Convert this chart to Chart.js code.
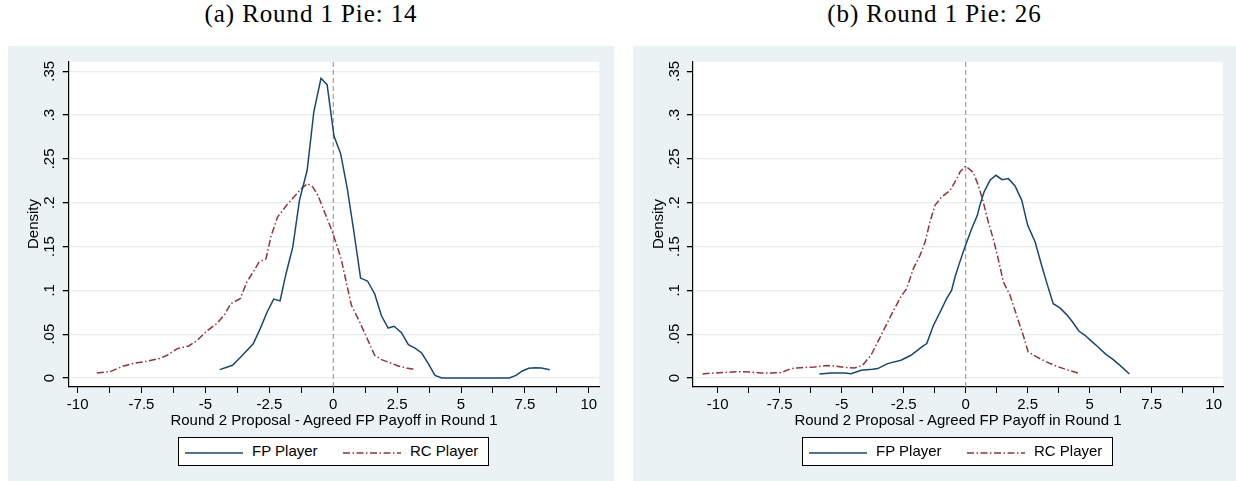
<!DOCTYPE html>
<html>
<head>
<meta charset="utf-8">
<script src="https://cdn.jsdelivr.net/npm/chart.js@4.4.1/dist/chart.umd.min.js"></script>
<style>
    body { margin: 0; width: 1236px; height: 481px; background: #fff; position: relative; overflow: hidden;
           font-family: "Liberation Sans", Arial, sans-serif; color: #000; }
    .title { position: absolute; top: 0; height: 28px; line-height: 28px; text-align: center;
             font-family: "Liberation Serif", "Times New Roman", serif; font-size: 25px; letter-spacing: 0.9px; }
    .panel { position: absolute; top: 46px; height: 435px; background: #eaf2f3; }
    .panel canvas { position: absolute; left: 0; top: 0; }
    .xtitle { position: absolute; top: 411px; width: 500px; height: 18px; line-height: 18px; text-align: center; font-size: 15px; }
    .ytitle { position: absolute; top: 215px; width: 100px; height: 18px; line-height: 18px; text-align: center;
              font-size: 15px; transform: rotate(-90deg); }
    .legend { position: absolute; top: 437px; width: 311px; height: 29px; box-sizing: border-box;
              border: 1px solid #000; background: #fff; font-size: 15px; }
    .legend svg { position: absolute; top: 13px; }
    .legend span { position: absolute; top: 4px; line-height: 18px; }
</style>
</head>
<body>

<div class="title" style="left:8px;width:606px">(a) Round 1 Pie: 14</div>
<div class="title" style="left:633px;width:603px">(b) Round 1 Pie: 26</div>

<div class="panel" style="left:8px;width:606px"><canvas id="chartA" width="606" height="435"></canvas></div>
<div class="panel" style="left:633px;width:603px"><canvas id="chartB" width="603" height="435"></canvas></div>

<div class="ytitle" style="left:-17px">Density</div>
<div class="ytitle" style="left:608px">Density</div>
<div class="xtitle" style="left:84px">Round 2 Proposal - Agreed FP Payoff in Round 1</div>
<div class="xtitle" style="left:708px">Round 2 Proposal - Agreed FP Payoff in Round 1</div>

<div class="legend" style="left:178px">
    <svg width="58" height="4" style="left:6px"><line x1="0" y1="2" x2="58" y2="2" stroke="#1a476f" stroke-width="1.5"/></svg>
    <span style="left:73px">FP Player</span>
    <svg width="58" height="4" style="left:164px"><line x1="0" y1="2" x2="58" y2="2" stroke="#90353b" stroke-width="1.5" stroke-dasharray="7 2.5 1.5 2.5"/></svg>
    <span style="left:231px">RC Player</span>
</div>
<div class="legend" style="left:802px">
    <svg width="58" height="4" style="left:6px"><line x1="0" y1="2" x2="58" y2="2" stroke="#1a476f" stroke-width="1.5"/></svg>
    <span style="left:73px">FP Player</span>
    <svg width="58" height="4" style="left:164px"><line x1="0" y1="2" x2="58" y2="2" stroke="#90353b" stroke-width="1.5" stroke-dasharray="7 2.5 1.5 2.5"/></svg>
    <span style="left:231px">RC Player</span>
</div>

<script>
// ===================== DATA =====================

const xTickMarks = [-10, -8.75, -7.5, -6.25, -5, -3.75, -2.5, -1.25, 0, 1.25, 2.5, 3.75, 5, 6.25, 7.5, 8.75, 10];
const xTickLabels = [-10, -7.5, -5, -2.5, 0, 2.5, 5, 7.5, 10];
const yTicks = [0, 0.05, 0.1, 0.15, 0.2, 0.25, 0.3, 0.35];
const yTickText = ['0', '.05', '.1', '.15', '.2', '.25', '.3', '.35'];
const refLineX = 0;

// (a) Round 1 Pie: 14
const pie14FpX = [-4.44, -3.94, -3.62, -3.13, -2.86, -2.59, -2.33, -2.08, -1.85, -1.585, -1.32, -1.02, -0.76, -0.48,
    -0.24, 0.03, 0.29, 0.55, 0.81, 1.07, 1.34, 1.62, 1.89, 2.15, 2.38, 2.67, 2.94, 3.2, 3.46, 3.72, 3.98, 4.25,
    4.5, 5.0, 5.5, 6.0, 6.5, 6.89, 7.15, 7.4, 7.65, 7.9, 8.15, 8.47];
const pie14FpY = [0.0095, 0.0145, 0.024, 0.039, 0.056, 0.075, 0.090, 0.088, 0.1187, 0.1491, 0.203, 0.237, 0.3035, 0.342,
    0.3347, 0.276, 0.256, 0.216, 0.1666, 0.114, 0.1107, 0.0962, 0.0707, 0.057, 0.059, 0.0517, 0.038, 0.034, 0.0285, 0.0164, 0.003, 0,
    0, 0, 0, 0, 0, 0, 0.003, 0.008, 0.011, 0.0118, 0.0115, 0.0095];
const pie14RcX = [-9.25, -8.73, -8.2, -7.81, -7.29, -6.83, -6.5, -6.1, -5.65, -5.32, -4.99, -4.56, -4.27, -4.01, -3.64,
    -3.38, -3.09, -2.9, -2.63, -2.44, -2.18, -1.98, -1.78, -1.52, -1.26, -1.0, -0.8, -0.6, -0.34, -0.08, 0.12, 0.31,
    0.51, 0.71, 1.035, 1.3, 1.62, 1.89, 2.21, 2.54, 2.87, 3.2];
const pie14RcY = [0.0057, 0.0072, 0.0137, 0.0167, 0.019, 0.022, 0.0259, 0.0335, 0.0365, 0.043, 0.0525, 0.062, 0.0715, 0.0848, 0.0905,
    0.1095, 0.1229, 0.1324, 0.136, 0.161, 0.1837, 0.191, 0.199, 0.207, 0.216, 0.2218, 0.218, 0.2084, 0.1894, 0.1704, 0.1533, 0.136,
    0.1094, 0.083, 0.0639, 0.0468, 0.0259, 0.0209, 0.0175, 0.0137, 0.0114, 0.0095];

// (b) Round 1 Pie: 26
const pie26FpX = [-5.9, -5.43, -4.89, -4.62, -4.22, -3.75, -3.55, -3.15, -2.61, -2.21, -2.0, -1.77, -1.57, -1.3, -1.03,
    -0.77, -0.57, -0.43, -0.26, -0.03, 0.24, 0.47, 0.57, 0.74, 0.98, 1.22, 1.47, 1.72, 1.99, 2.26, 2.5, 2.8, 3.06,
    3.3, 3.53, 3.8, 4.07, 4.31, 4.57, 4.81, 5.08, 5.35, 5.62, 5.95, 6.29, 6.6];
const pie26FpY = [0.0046, 0.0057, 0.0057, 0.0049, 0.0087, 0.0099, 0.0107, 0.0164, 0.0202, 0.0259, 0.0304, 0.0354, 0.0392, 0.0601, 0.0753,
    0.0905, 0.1, 0.1153, 0.1305, 0.1495, 0.1704, 0.1856, 0.197, 0.2122, 0.2256, 0.2313, 0.2263, 0.2275, 0.2191, 0.2027, 0.1742, 0.1552, 0.1286,
    0.1057, 0.0848, 0.0799, 0.0723, 0.0639, 0.0533, 0.0487, 0.0418, 0.035, 0.0278, 0.0209, 0.0126, 0.0046];
const pie26RcX = [-10.61, -10.14, -9.6, -9.06, -8.73, -8.25, -7.85, -7.45, -7.04, -6.64, -6.1, -5.56, -5.3, -4.89, -4.49,
    -4.16, -3.82, -3.41, -3.01, -2.63, -2.38, -2.11, -1.84, -1.64, -1.44, -1.24, -0.97, -0.63, -0.43, -0.23, 0.0,
    0.31, 0.51, 0.71, 0.91, 1.11, 1.31, 1.52, 1.79, 2.05, 2.32, 2.52, 2.86, 3.26, 3.67, 4.07, 4.61];
const pie26RcY = [0.0046, 0.0057, 0.0065, 0.0072, 0.0068, 0.0057, 0.0057, 0.0061, 0.0107, 0.0118, 0.0126, 0.0141, 0.0137, 0.0122, 0.0114,
    0.0145, 0.0259, 0.0487, 0.0715, 0.092, 0.102, 0.1248, 0.14, 0.155, 0.178, 0.197, 0.2065, 0.214, 0.2237, 0.235, 0.242,
    0.2343, 0.2198, 0.2008, 0.178, 0.159, 0.136, 0.1095, 0.0943, 0.0715, 0.0487, 0.0297, 0.024, 0.0183, 0.0133, 0.0095, 0.0049];

// ===================== CHARTS =====================

const FP_COLOR = '#1a476f';
const RC_COLOR = '#90353b';
const BG_GRID = '#e6eef0';

function zip(xs, ys) {
    return xs.map((x, i) => ({ x, y: ys[i] }));
}

// white plot region, grey reference line at 0, rotated y tick labels (Stata style)
const stataPlugin = {
    id: 'stataPlot',
    beforeDraw(chart) {
        const { ctx, chartArea: a } = chart;
        ctx.save();
        ctx.fillStyle = '#fff';
        ctx.fillRect(a.left, a.top, a.right - a.left, a.bottom - a.top);
        ctx.restore();
    },
    beforeDatasetsDraw(chart) {
        const { ctx, chartArea: a, scales } = chart;
        const px = scales.x.getPixelForValue(refLineX);
        ctx.save();
        ctx.strokeStyle = '#8c8c8c';
        ctx.lineWidth = 1;
        ctx.setLineDash([5, 3]);
        ctx.beginPath();
        ctx.moveTo(px, a.top);
        ctx.lineTo(px, a.bottom);
        ctx.stroke();
        ctx.restore();
    },
    afterDraw(chart) {
        const { ctx, chartArea: a, scales } = chart;
        ctx.save();
        ctx.fillStyle = '#000';
        ctx.font = '15px "Liberation Sans", Arial, sans-serif';
        ctx.textAlign = 'center';
        ctx.textBaseline = 'middle';
        yTicks.forEach((v, i) => {
            ctx.save();
            ctx.translate(a.left - 18.5, scales.y.getPixelForValue(v));
            ctx.rotate(-Math.PI / 2);
            ctx.fillText(yTickText[i], 0, 0);
            ctx.restore();
        });
        ctx.restore();
    }
};

function makePanel(id, p) {
    new Chart(document.getElementById(id), {
        type: 'line',
        data: {
            datasets: [
                { label: 'FP Player', data: zip(p.fpX, p.fpY), borderColor: FP_COLOR, borderWidth: 1.5,
                  pointRadius: 0, tension: 0, fill: false },
                { label: 'RC Player', data: zip(p.rcX, p.rcY), borderColor: RC_COLOR, borderWidth: 1.5,
                  borderDash: [7, 2.5, 1.5, 2.5], pointRadius: 0, tension: 0, fill: false }
            ]
        },
        options: {
            responsive: false,
            animation: false,
            events: [],
            layout: { padding: { left: 0, top: 16, right: p.padRight, bottom: 0 } },
            plugins: { legend: { display: false }, tooltip: { enabled: false } },
            scales: {
                x: {
                    type: 'linear', min: p.xMin, max: p.xMax,
                    afterBuildTicks: s => { s.ticks = xTickMarks.map(v => ({ value: v })); },
                    afterFit: s => { s.height = 94; },
                    ticks: {
                        autoSkip: false, maxRotation: 0, minRotation: 0, padding: 3, color: '#000',
                        font: { family: '"Liberation Sans", Arial, sans-serif', size: 15 },
                        callback: v => xTickLabels.includes(v) ? String(v) : ''
                    },
                    grid: { drawOnChartArea: false, tickLength: 6, tickColor: '#000' },
                    border: { color: '#000', width: 1.2 }
                },
                y: {
                    type: 'linear', min: -0.0103, max: 0.3606,
                    afterBuildTicks: s => { s.ticks = yTicks.map(v => ({ value: v })); },
                    afterFit: s => { s.width = p.plotLeft; },
                    ticks: { display: false },
                    grid: {
                        color: c => (!p.topGrid && c.tick && c.tick.value > 0.34) ? 'rgba(0,0,0,0)' : BG_GRID,
                        lineWidth: 1.3, tickLength: 6, tickColor: '#000'
                    },
                    border: { color: '#000', width: 1.2 }
                }
            }
        },
        plugins: [stataPlugin]
    });
}

makePanel('chartA', {
    fpX: pie14FpX, fpY: pie14FpY, rcX: pie14RcX, rcY: pie14RcY,
    xMin: -10.35, xMax: 10.41, plotLeft: 60.7, padRight: 14.7, topGrid: true
});
makePanel('chartB', {
    fpX: pie26FpX, fpY: pie26FpY, rcX: pie26RcX, rcY: pie26RcY,
    xMin: -11.0, xMax: 10.375, plotLeft: 59.9, padRight: 13, topGrid: false
});
</script>
</body>
</html>
